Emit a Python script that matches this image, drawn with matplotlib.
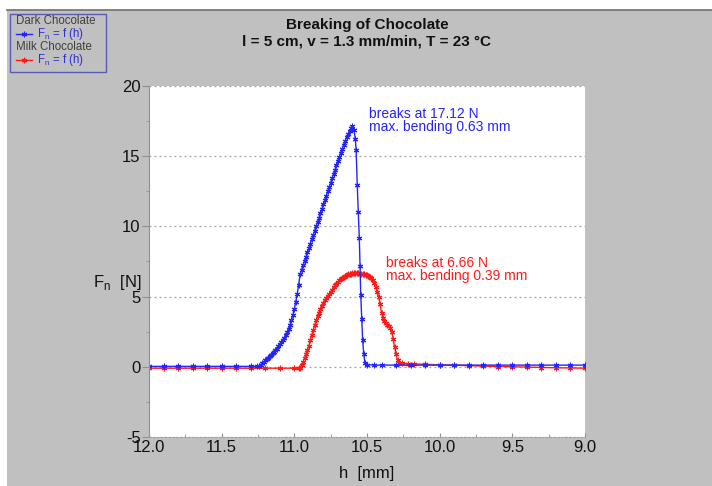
import matplotlib.pyplot as plt
from matplotlib.lines import Line2D
from matplotlib.patches import Rectangle
from matplotlib.ticker import MultipleLocator

plt.rcParams['font.family'] = ['Liberation Sans', 'DejaVu Sans']

# Dark chocolate: h [mm] and Fn [N]
dark_h = [12.0, 11.9, 11.8, 11.7, 11.6, 11.5, 11.4, 11.3, 11.26,
          11.24, 11.23, 11.22, 11.21, 11.20, 11.19, 11.18, 11.17, 11.16, 11.15,
          11.14, 11.13, 11.12, 11.11, 11.10, 11.09, 11.08, 11.07, 11.06, 11.05,
          11.04, 11.03, 11.02, 11.01, 11.00, 10.99, 10.98, 10.97, 10.96, 10.95,
          10.94, 10.93, 10.92, 10.91, 10.90, 10.89, 10.88, 10.87, 10.86, 10.85,
          10.84, 10.83, 10.82, 10.81, 10.80, 10.79, 10.78, 10.77, 10.76, 10.75,
          10.74, 10.73, 10.72, 10.71, 10.70, 10.69, 10.68, 10.67, 10.66, 10.65,
          10.64, 10.63, 10.62, 10.61, 10.60, 10.59, 10.58, 10.575, 10.567, 10.56,
          10.553, 10.548, 10.543, 10.536, 10.53, 10.522, 10.514, 10.50, 10.45,
          10.4, 10.3, 10.2, 10.1, 10.0, 9.9, 9.8, 9.7, 9.6, 9.5, 9.4, 9.3, 9.2, 9.1, 9.0]
dark_f = [0.03, 0.03, 0.03, 0.03, 0.03, 0.03, 0.03, 0.03, 0.03,
          0.05, 0.15, 0.25, 0.35, 0.45, 0.55, 0.65, 0.75, 0.85, 0.95,
          1.05, 1.17, 1.3, 1.45, 1.6, 1.75, 1.9, 2.07, 2.25, 2.45,
          2.7, 3.0, 3.3, 3.7, 4.1, 4.65, 5.2, 5.85, 6.6, 6.91,
          7.22, 7.53, 7.84, 8.15, 8.46, 8.77, 9.08, 9.39, 9.7, 10.01,
          10.32, 10.63, 10.94, 11.25, 11.56, 11.87, 12.18, 12.49, 12.8, 13.11,
          13.42, 13.73, 14.04, 14.35, 14.66, 14.97, 15.26, 15.54, 15.82, 16.08,
          16.34, 16.58, 16.8, 16.98, 17.12, 16.9, 16.2, 15.45, 12.96, 11.0,
          9.2, 7.2, 5.1, 3.4, 1.9, 0.9, 0.26, 0.15, 0.12,
          0.12, 0.12, 0.12, 0.12, 0.12, 0.12, 0.12, 0.12, 0.12, 0.12, 0.12, 0.12, 0.12, 0.12, 0.12]

# Milk chocolate: h [mm] and Fn [N]
milk_h = [12.0, 11.9, 11.8, 11.7, 11.6, 11.5, 11.4, 11.3, 11.2, 11.1, 11.0, 10.97,
          10.96, 10.95, 10.94, 10.93, 10.92, 10.91, 10.90, 10.89, 10.88, 10.87,
          10.86, 10.85, 10.84, 10.83, 10.82, 10.81, 10.80, 10.79, 10.78, 10.77,
          10.76, 10.75, 10.74, 10.73, 10.72, 10.71, 10.70, 10.69, 10.68, 10.67,
          10.66, 10.65, 10.64, 10.63, 10.62, 10.61, 10.60, 10.59, 10.58, 10.57,
          10.56, 10.55, 10.54, 10.53, 10.52, 10.51, 10.50, 10.49, 10.48, 10.47,
          10.46, 10.45, 10.44, 10.43, 10.42, 10.41, 10.40, 10.39, 10.38, 10.37,
          10.36, 10.35, 10.34, 10.33, 10.32, 10.31, 10.30, 10.29, 10.28, 10.26,
          10.22, 10.18, 10.1, 10.0, 9.9, 9.8, 9.7, 9.6, 9.5, 9.4, 9.3, 9.2, 9.1, 9.0]
milk_f = [-0.1, -0.1, -0.1, -0.1, -0.1, -0.1, -0.1, -0.1, -0.1, -0.1, -0.1, -0.1,
          -0.05, 0.1, 0.35, 0.6, 0.9, 1.2, 1.5, 1.9, 2.25, 2.6,
          2.95, 3.3, 3.6, 3.85, 4.1, 4.35, 4.55, 4.75, 4.9, 5.05,
          5.2, 5.35, 5.5, 5.65, 5.8, 5.92, 6.04, 6.15, 6.25, 6.33,
          6.41, 6.48, 6.54, 6.59, 6.62, 6.64, 6.65, 6.66, 6.66, 6.66,
          6.65, 6.64, 6.63, 6.62, 6.6, 6.57, 6.53, 6.48, 6.42, 6.32,
          6.18, 5.95, 5.65, 5.35, 5.0, 4.45, 3.85, 3.5, 3.25, 3.1,
          3.0, 2.9, 2.75, 2.5, 2.0, 1.4, 0.9, 0.45, 0.3, 0.25,
          0.22, 0.2, 0.18, 0.14, 0.12, 0.08, 0.05, 0.02, 0.0, -0.02, -0.05, -0.07, -0.08, -0.1]

blue = '#2424ff'
red = '#ff1a1a'
bg = '#c0c0c0'
star = (6, 2, 0)

fig = plt.figure(figsize=(7.12, 4.86), dpi=100, facecolor='white')
fig.patches.append(Rectangle((7 / 712, 0), 1, 476 / 486, transform=fig.transFigure,
                             facecolor=bg, edgecolor='none', zorder=-10))
fig.lines.append(Line2D([7 / 712, 1], [476 / 486, 476 / 486], transform=fig.transFigure,
                        color='#707070', lw=1.2, zorder=-9))

ax = fig.add_axes([149 / 712, 1 - 437 / 486, 436 / 712, 351 / 486])
ax.set_facecolor('white')

ax.plot(milk_h, milk_f, color=red, lw=1, marker=star, ms=4, mew=0.8)
ax.plot(dark_h, dark_f, color=blue, lw=1, marker=star, ms=4, mew=0.8)

ax.set_xlim(12, 9)
ax.set_ylim(-5, 20)
ax.xaxis.set_major_locator(MultipleLocator(0.5))
ax.xaxis.set_minor_locator(MultipleLocator(0.25))
ax.yaxis.set_major_locator(MultipleLocator(5))
ax.yaxis.set_minor_locator(MultipleLocator(2.5))
ax.xaxis.set_major_formatter(lambda v, p: f'{v:.1f}')
ax.yaxis.set_major_formatter(lambda v, p: f'{v:.0f}')
ax.grid(axis='y', which='major', color='#a0a0a0', ls=(0, (1.5, 2.5)), lw=0.9)

for s in ['top', 'right']:
    ax.spines[s].set_visible(False)
ax.spines['left'].set_color('#909090')
ax.spines['bottom'].set_color('#a0a0a0')
ax.spines['bottom'].set_linestyle((0, (1.5, 2)))

ax.tick_params(axis='y', which='major', direction='out', length=5, color='#909090',
               labelsize=12, pad=1, labelcolor='#111111')
ax.tick_params(axis='y', which='minor', direction='out', length=2, color='#909090')
ax.tick_params(axis='x', which='major', direction='in', length=3, color='#909090',
               labelsize=12, pad=2, labelcolor='#111111')
ax.tick_params(axis='x', which='minor', direction='in', length=2, color='#909090')

fig.text(367 / 712, 1 - 25 / 486, 'Breaking of Chocolate', ha='center', va='center',
         fontsize=11, fontweight='bold', color='#111111')
fig.text(367 / 712, 1 - 42 / 486, 'l = 5 cm, v = 1.3 mm/min, T = 23 °C', ha='center',
         va='center', fontsize=11, fontweight='bold', color='#111111')

fig.text(117 / 712, 1 - 282 / 486, r'F$_\mathregular{n}$  [N]', ha='center', va='center',
         fontsize=12, color='#111111')
fig.text(367 / 712, 1 - 473 / 486, 'h  [mm]', ha='center', va='center',
         fontsize=12, color='#111111')

ax.text(10.486, 17.55, 'breaks at 17.12 N\nmax. bending 0.63 mm', color=blue,
        fontsize=10, ha='left', va='center', linespacing=0.95)
ax.text(10.369, 6.94, 'breaks at 6.66 N\nmax. bending 0.39 mm', color=red,
        fontsize=10, ha='left', va='center', linespacing=0.95)

# legend box
fig.patches.append(Rectangle((10 / 712, 1 - 72 / 486), 96 / 712, 58 / 486,
                             transform=fig.transFigure, facecolor=bg,
                             edgecolor='#5a5ab4', lw=1))
rows = [('Dark Chocolate', None, 21), (r'F$_\mathregular{n}$ = f (h)', blue, 34),
        ('Milk Chocolate', None, 47), (r'F$_\mathregular{n}$ = f (h)', red, 60)]
for label, col, yy in rows:
    y = 1 - yy / 486
    if col is None:
        fig.text(16 / 712, y, label, ha='left', va='center', fontsize=8.3, color='#404040')
    else:
        fig.lines.append(Line2D([16 / 712, 32 / 712], [y, y], transform=fig.transFigure,
                                color=col, lw=1))
        fig.lines.append(Line2D([24 / 712], [y], transform=fig.transFigure, color=col,
                                marker=star, ms=4, mew=0.8))
        fig.text(37 / 712, y, label, ha='left', va='center', fontsize=8.3, color='#3030d0')

fig.savefig('out.png', dpi=100, facecolor='white')
